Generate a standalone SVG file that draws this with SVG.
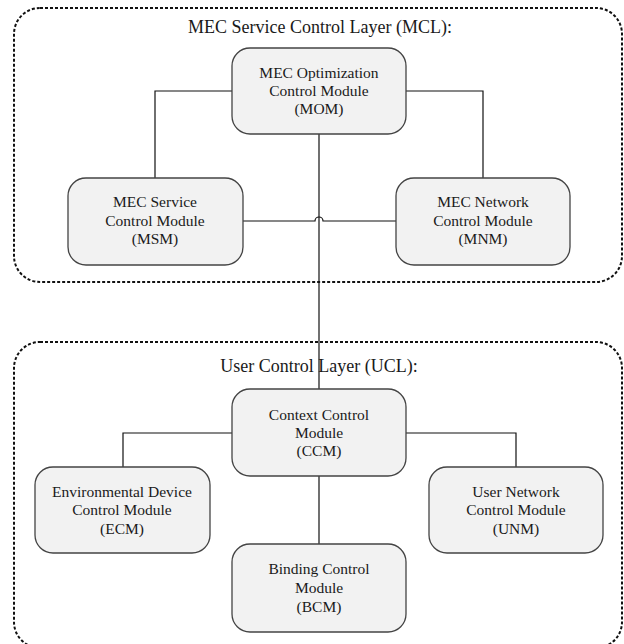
<svg xmlns="http://www.w3.org/2000/svg" width="624" height="644" viewBox="0 0 624 644">
<style>
.layer{fill:none;stroke:#111;stroke-width:2;stroke-dasharray:3 2}
.box{fill:#f2f2f2;stroke:#444;stroke-width:1.3}
.conn{fill:none;stroke:#111;stroke-width:1.2}
text{font-family:"Liberation Serif","Times New Roman",serif;fill:#1a1a1a;text-anchor:middle}
.t{font-size:15.5px}
.h{font-size:18px}
</style>
<rect fill="#ffffff" x="0" y="0" width="624" height="644"/>
<g id="layer-mcl">
<rect class="layer" x="14" y="8" width="608" height="274" rx="26"/>
<text class="h" x="320" y="33">MEC Service Control Layer (MCL):</text>
</g>
<g id="layer-ucl">
<rect class="layer" x="14" y="342" width="608" height="306" rx="26"/>
<text class="h" x="319" y="372">User Control Layer (UCL):</text>
</g>
<g id="connectors">
<path class="conn" d="M232 91 H155 V178"/>
<path class="conn" d="M406 91 H483 V178"/>
<path class="conn" d="M243 221 H315 A4 4 0 0 1 323 221 H396"/>
<path class="conn" d="M319 134 V389"/>
<path class="conn" d="M232 433 H123 V467"/>
<path class="conn" d="M406 433 H516 V467"/>
<path class="conn" d="M319 476 V544"/>
</g>
<g id="node-mom">
<rect class="box" x="232" y="48" width="174" height="86" rx="18"/>
<text class="t" x="319" y="78">MEC Optimization</text>
<text class="t" x="319" y="96">Control Module</text>
<text class="t" x="319" y="114">(MOM)</text>
</g>
<g id="node-msm">
<rect class="box" x="68" y="178" width="175" height="87" rx="18"/>
<text class="t" x="155" y="207">MEC Service</text>
<text class="t" x="155" y="226">Control Module</text>
<text class="t" x="155" y="244">(MSM)</text>
</g>
<g id="node-mnm">
<rect class="box" x="396" y="178" width="174" height="87" rx="18"/>
<text class="t" x="483" y="207">MEC Network</text>
<text class="t" x="483" y="226">Control Module</text>
<text class="t" x="483" y="244">(MNM)</text>
</g>
<g id="node-ccm">
<rect class="box" x="232" y="389" width="174" height="87" rx="18"/>
<text class="t" x="319" y="420">Context Control</text>
<text class="t" x="319" y="438">Module</text>
<text class="t" x="319" y="456">(CCM)</text>
</g>
<g id="node-ecm">
<rect class="box" x="35" y="467" width="175" height="86" rx="18"/>
<text class="t" x="122" y="497">Environmental Device</text>
<text class="t" x="122" y="515">Control Module</text>
<text class="t" x="122" y="534">(ECM)</text>
</g>
<g id="node-unm">
<rect class="box" x="429" y="467" width="174" height="86" rx="18"/>
<text class="t" x="516" y="497">User Network</text>
<text class="t" x="516" y="515">Control Module</text>
<text class="t" x="516" y="534">(UNM)</text>
</g>
<g id="node-bcm">
<rect class="box" x="232" y="544" width="174" height="88" rx="18"/>
<text class="t" x="319" y="574">Binding Control</text>
<text class="t" x="319" y="593">Module</text>
<text class="t" x="319" y="612">(BCM)</text>
</g>
</svg>
